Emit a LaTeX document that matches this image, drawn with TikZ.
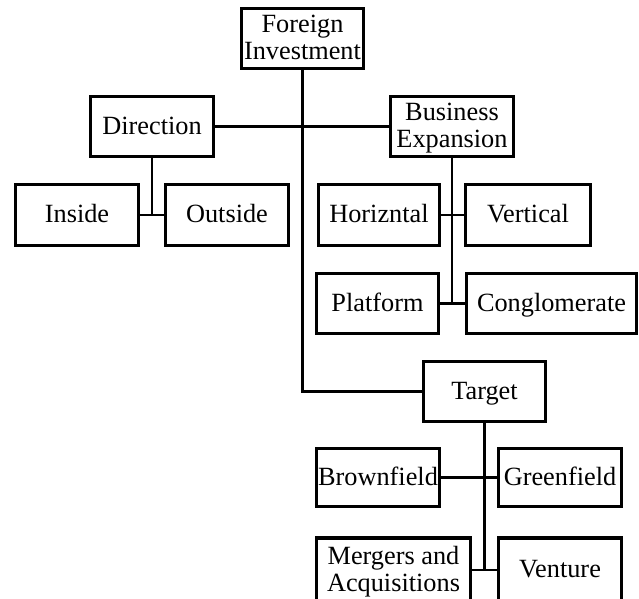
\documentclass[tikz,border=0pt]{standalone}
\usepackage{fontspec}
\setmainfont{Liberation Serif}
\newcommand{\ls}{\rule[-5.8pt]{0pt}{27pt}}
\begin{document}
\begin{tikzpicture}[x=1pt,y=-1pt,
  box/.style={draw, line width=3.8pt, inner sep=0pt, align=center,
    font=\fontsize{26.3}{27}\selectfont},
  link/.style={line width=2.6pt}]
\useasboundingbox (0,0) rectangle (639,598);
\node[box, minimum width=122pt, minimum height=60pt] (fi) at (302.5,38.5) {\ls Foreign\\\ls Investment};
\node[box, minimum width=123pt, minimum height=60pt] (dir) at (152,126.5) {\ls Direction};
\node[box, minimum width=123pt, minimum height=60pt] (be) at (452,126.5) {\ls Business\\\ls Expansion};
\node[box, minimum width=123pt, minimum height=61pt] (in) at (77,215) {\ls Inside};
\node[box, minimum width=123pt, minimum height=61pt] (out) at (227,215) {\ls Outside};
\node[box, minimum width=121pt, minimum height=61pt] (hor) at (379,215) {\ls Horizntal};
\node[box, minimum width=125pt, minimum height=61pt] (ver) at (528,215) {\ls Vertical};
\node[box, minimum width=122pt, minimum height=60pt] (pla) at (377.5,303.5) {\ls Platform};
\node[box, minimum width=170pt, minimum height=60pt] (con) at (551.5,303.5) {\ls Conglomerate};
\node[box, minimum width=122pt, minimum height=60pt] (tar) at (484.5,391.5) {\ls Target};
\node[box, minimum width=123pt, minimum height=58pt] (bro) at (378,477.5) {\ls Brownfield};
\node[box, minimum width=123pt, minimum height=58pt] (gre) at (560,477.5) {\ls Greenfield};
\node[box, minimum width=154pt, minimum height=64pt] (mer) at (393.5,570) {\ls Mergers and\\\ls Acquisitions};
\node[box, minimum width=123pt, minimum height=64pt] (ven) at (560,570) {\ls Venture};
% connectors
\draw[link] (fi.south) |- (tar.west);
\draw[link] (dir.east) -- (be.west);
\draw[link] (dir.south) -- (dir.south |- in.east);
\draw[link] (in.east) -- (out.west);
\draw[link] (be.south) -- (be.south |- pla.east);
\draw[link] (hor.east) -- (ver.west);
\draw[link] (pla.east) -- (con.west);
\draw[link] (tar.south) -- (tar.south |- ven.west);
\draw[link] (bro.east) -- (gre.west);
\draw[link] (mer.east) -- (ven.west);
\end{tikzpicture}
\end{document}
